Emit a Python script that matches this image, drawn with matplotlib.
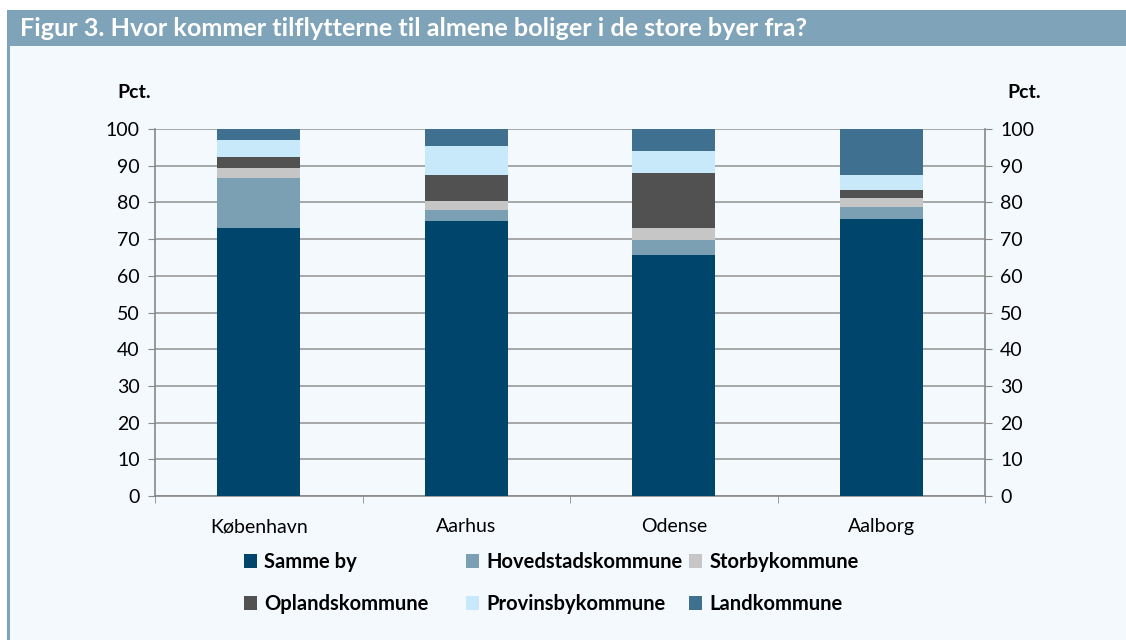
import matplotlib
matplotlib.use("Agg")
import matplotlib.pyplot as plt
from matplotlib.patches import Rectangle
import numpy as np

categories = ["København", "Aarhus", "Odense", "Aalborg"]
series_names = ["Samme by", "Hovedstadskommune", "Storbykommune",
                "Oplandskommune", "Provinsbykommune", "Landkommune"]
samme_by = [73.0, 74.8, 65.7, 75.5]
hovedstad = [13.7, 3.0, 4.1, 3.2]
storby = [2.6, 2.6, 3.1, 2.5]
opland = [3.2, 7.1, 15.2, 2.2]
provinsby = [4.5, 7.9, 5.8, 4.1]
land = [3.0, 4.6, 6.5, 12.5]
colors = ["#00456b", "#7ba0b4", "#c6c6c6", "#515151", "#c7e9f9", "#3f7090"]
yticks = list(range(0, 101, 10))

plt.rcParams['font.family'] = ['Lato', 'DejaVu Sans']

fig = plt.figure(figsize=(11.26, 6.4), dpi=100)
fig.patch.set_facecolor("white")
# background panel
fig.patches.append(Rectangle((7/1126, 0), 1 - 7/1126, 1 - 46/640, transform=fig.transFigure,
                             facecolor="#f4f9fd", edgecolor="none", zorder=-2))
# title bar
fig.patches.append(Rectangle((7/1126, 1 - 46/640), 1 - 7/1126, 36/640, transform=fig.transFigure,
                             facecolor="#7fa3b8", edgecolor="none", zorder=-1))
# left stripe
fig.patches.append(Rectangle((7/1126, 0), 3/1126, 1 - 10/640, transform=fig.transFigure,
                             facecolor="#7fa3b8", edgecolor="none", zorder=-1))
fig.text(20/1126, 1 - 29/640, "Figur 3. Hvor kommer tilflytterne til almene boliger i de store byer fra?",
         color="white", fontsize=18.2, fontweight="bold", va="center", ha="left")

ax = fig.add_axes([155/1126, 1 - 496/640, 830/1126, 367/640])
ax.set_facecolor("none")
x = np.arange(len(categories))
data = [samme_by, hovedstad, storby, opland, provinsby, land]
bottom = np.zeros(len(categories))
handles = []
for vals, name, c in zip(data, series_names, colors):
    h = ax.bar(x, vals, width=0.4, bottom=bottom, color=c, label=name, zorder=3)
    handles.append(h)
    bottom += np.array(vals)

ax.set_xlim(-0.5, len(categories) - 0.5)
ax.set_ylim(0, 100)
ax.set_yticks(yticks)
ax.tick_params(axis="y", which="major", direction="out", length=5, color="#888888",
               labelsize=14, left=True, right=True, labelleft=True, labelright=True, pad=6)
ax.set_xticks(x)
ax.set_xticklabels(categories)
ax.tick_params(axis="x", which="major", length=0, labelsize=14, pad=16)
ax.set_xticks(np.arange(-0.5, len(categories)), minor=True)
ax.tick_params(axis="x", which="minor", direction="out", length=5, color="#888888")
ax.yaxis.grid(True, color="#999999", linewidth=1.2, zorder=0)
ax.set_axisbelow(True)
for s in ["left", "right", "bottom"]:
    ax.spines[s].set_color("#888888")
    ax.spines[s].set_linewidth(1.2)
ax.spines["top"].set_visible(False)

fig.text(134/1126, 1 - 92/640, "Pct.", fontsize=14, fontweight="bold", ha="center", va="center")
fig.text(1024/1126, 1 - 92/640, "Pct.", fontsize=14, fontweight="bold", ha="center", va="center")

# legend entries placed in a fixed grid
col_x = [244, 466, 689]
row_y = [562, 604]
positions = [(0, 0), (1, 0), (2, 0), (0, 1), (1, 1), (2, 1)]
for i, (cx, ry) in enumerate(positions):
    leg = fig.legend([handles[i]], [series_names[i]], loc="center left",
                     bbox_to_anchor=(col_x[cx]/1126, 1 - row_y[ry]/640),
                     frameon=False, prop={"weight": "bold", "size": 14.5},
                     handlelength=0.65, handleheight=0.65, handletextpad=0.35,
                     borderpad=0, borderaxespad=0)

fig.savefig("out.png", dpi=100, facecolor=fig.get_facecolor())
